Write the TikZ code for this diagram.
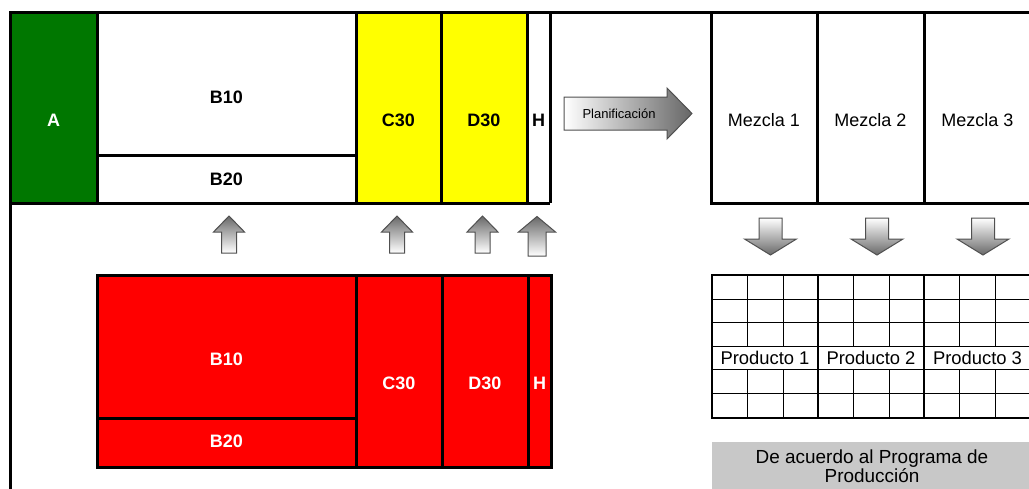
\documentclass[tikz,border=0pt]{standalone}
\usepackage{fontspec}
\setmainfont{Liberation Sans}
\definecolor{zgreen}{RGB}{0,119,0}
\definecolor{zred}{RGB}{255,0,0}
\definecolor{zyellow}{RGB}{255,255,0}
\definecolor{zgray}{RGB}{200,200,200}
\definecolor{arrline}{RGB}{80,80,80}
\definecolor{arrdark}{RGB}{105,105,105}
\tikzset{
  heavy/.style={line width=2.25pt},
  grpline/.style={line width=1.5pt},
  thinline/.style={line width=0.75pt},
  blbl/.style={font=\bfseries\fontsize{13.5}{16}\selectfont},
  wlbl/.style={blbl,text=white},
  plain/.style={font=\fontsize{13.5}{16}\selectfont},
  prod/.style={font=\fontsize{13.8}{16}\selectfont},
  uparr/.style={draw=arrline,line width=0.75pt,top color=arrdark,bottom color=white},
  downarr/.style={draw=arrline,line width=0.75pt,top color=white,bottom color=arrdark},
}
\begin{document}
\begin{tikzpicture}[x=0.75pt,y=-0.75pt]
\useasboundingbox (0,0) rectangle (1029,489);
\clip (0,0) rectangle (1029,489);

% ---------- current stock (top row) ----------
\fill[zgreen] (10,12) rectangle (97,203);
\fill[zyellow] (356,12) rectangle (527,203);
\draw[heavy] (10,495) -- (10,12) -- (1040,12);
\draw[heavy] (10,203) -- (550,203);
\draw[heavy] (97,12) -- (97,203);
\draw[heavy] (97,155) -- (356,155);
\foreach \xx in {356,441,527,550} \draw[heavy] (\xx,12) -- (\xx,203);
\node[wlbl] (tA) at (53.5,120) {A};
\node[blbl] (tB10) at (226.5,97) {B10};
\node[blbl] (tB20) at (226.5,179) {B20};
\node[blbl] (tC30) at (398.5,120) {C30};
\node[blbl] (tD30) at (484,120) {D30};
\node[blbl] (tH) at (538.5,120) {H};

% ---------- planning arrow ----------
\path[draw=arrline,line width=0.75pt,left color=white,right color=black!60]
  (564,97) -- (667,97) -- (667,88) -- (692,113.5) -- (667,139) -- (667,130) -- (564,130) -- cycle;
\node[font=\fontsize{9.75}{11}\selectfont] (plan) at (619,113.5) {Planificación};

% ---------- mixes ----------
\draw[heavy] (711,12) -- (711,203) -- (1040,203);
\foreach \xx in {817,924} \draw[heavy] (\xx,12) -- (\xx,203);
\node[plain] (m1) at (764,120) {Mezcla 1};
\node[plain] (m2) at (870.5,120) {Mezcla 2};
\node[plain] (m3) at (977.5,120) {Mezcla 3};

% ---------- up arrows from requirement to stock ----------
\foreach \cx in {229,397,482.5}
  \path[uparr] (\cx,216) -- ({\cx+15.5},232) -- ({\cx+7.5},232) -- ({\cx+7.5},253)
    -- ({\cx-7.5},253) -- ({\cx-7.5},232) -- ({\cx-15.5},232) -- cycle;
\path[uparr] (537,216.5) -- (555.5,232) -- (546,232) -- (546,256)
  -- (528,256) -- (528,232) -- (518.5,232) -- cycle;

% ---------- requirement (bottom row) ----------
\fill[zred] (97,275) rectangle (551,467);
\draw[heavy] (97,275) rectangle (551,467);
\draw[heavy] (97,418) -- (356,418);
\foreach \xx in {356,442,528} \draw[heavy] (\xx,275) -- (\xx,467);
\node[wlbl] (rB10) at (226.5,359) {B10};
\node[wlbl] (rB20) at (226.5,441) {B20};
\node[wlbl] (rC30) at (399,383) {C30};
\node[wlbl] (rD30) at (485,383) {D30};
\node[wlbl] (rH) at (539.5,383) {H};

% ---------- down arrows from mixes to products ----------
\foreach \cx in {770.5,877,983}
  \path[downarr] ({\cx-11.5},218) -- ({\cx+11.5},218) -- ({\cx+11.5},239) -- ({\cx+26},239)
    -- (\cx,255) -- ({\cx-26},239) -- ({\cx-11.5},239) -- cycle;

% ---------- product grid ----------
\foreach \yy in {299,322.5,346,369.5,393.5}
  \draw[thinline] (711.5,\yy) -- (1040,\yy);
\foreach \xx in {747,783,853,889,959,995} {
  \draw[thinline] (\xx,275) -- (\xx,346);
  \draw[thinline] (\xx,369.5) -- (\xx,417.5);
}
\draw[grpline] (1040,275) -- (711.5,275) -- (711.5,417.5) -- (1040,417.5);
\foreach \xx in {818,924} \draw[grpline] (\xx,275) -- (\xx,417.5);
\node[prod] (p1) at (765,358) {Producto 1};
\node[prod] (p2) at (871,358) {Producto 2};
\node[prod] (p3) at (977.5,358) {Producto 3};

% ---------- note ----------
\fill[zgray] (711.5,442) rectangle (1040,495);
\node[font=\fontsize{14.2}{14.5}\selectfont,align=center] (note) at (872,466.5)
  {De acuerdo al Programa de\\Producción};
\end{tikzpicture}
\end{document}
